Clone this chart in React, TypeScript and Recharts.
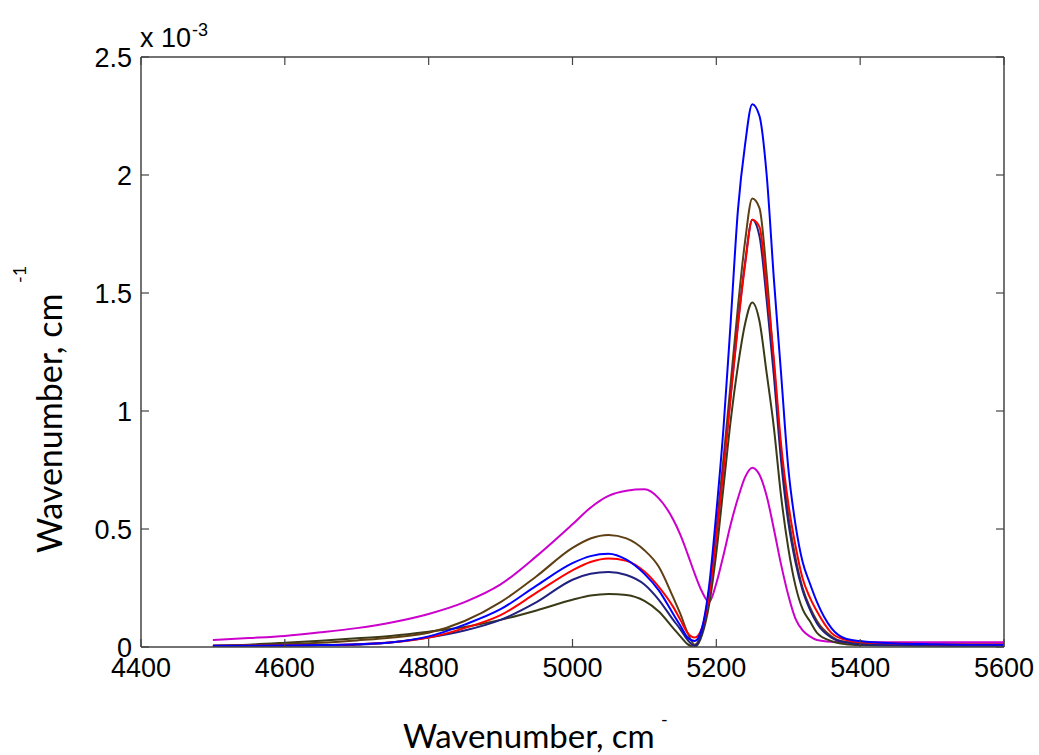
import React from 'react';
import { LineChart, Line, XAxis, YAxis, Label } from 'recharts';

// wavenumber grid (cm^-1)
const wavenumbers = [
  4500, 4550, 4600, 4650, 4700, 4750, 4800, 4850, 4900, 4950, 5000, 5025, 5050, 5075, 5100,
  5120, 5140, 5150, 5160, 5170, 5180, 5190, 5200, 5210, 5220, 5230, 5240, 5250, 5260, 5270,
  5280, 5290, 5300, 5310, 5320, 5330, 5340, 5360, 5380, 5400, 5450, 5500, 5550, 5600,
];

// values in units of 1e-3
const magenta = [
  0.03, 0.038, 0.047, 0.062, 0.08, 0.105, 0.14, 0.19, 0.265, 0.385, 0.52, 0.59, 0.64, 0.662, 0.668,
  0.63, 0.54, 0.475, 0.395, 0.31, 0.235, 0.19, 0.27, 0.39, 0.52, 0.63, 0.72, 0.76, 0.73, 0.64,
  0.5, 0.35, 0.22, 0.12, 0.07, 0.045, 0.03, 0.022, 0.02, 0.02, 0.02, 0.02, 0.02, 0.02,
];
const olive = [
  0.005, 0.01, 0.018, 0.027, 0.037, 0.048, 0.065, 0.085, 0.115, 0.155, 0.2, 0.218, 0.225, 0.22, 0.195,
  0.15, 0.08, 0.045, 0.012, 0.0, 0.05, 0.18, 0.4, 0.68, 0.96, 1.19, 1.37, 1.46, 1.38, 1.16,
  0.93, 0.64, 0.42, 0.26, 0.16, 0.11, 0.06, 0.025, 0.012, 0.008, 0.006, 0.005, 0.005, 0.005,
];
const brown = [
  0.005, 0.008, 0.012, 0.018, 0.028, 0.04, 0.06, 0.11, 0.19, 0.3, 0.42, 0.46, 0.475, 0.46, 0.41,
  0.34, 0.21, 0.14, 0.06, 0.01, 0.07, 0.24, 0.5, 0.8, 1.12, 1.44, 1.72, 1.9, 1.86, 1.58,
  1.2, 0.83, 0.56, 0.38, 0.25, 0.17, 0.11, 0.045, 0.02, 0.015, 0.01, 0.008, 0.008, 0.008,
];
const navy = [
  0.003, 0.004, 0.005, 0.007, 0.01, 0.02, 0.04, 0.07, 0.115, 0.19, 0.285, 0.31, 0.318, 0.305, 0.265,
  0.2, 0.115, 0.075, 0.03, 0.005, 0.06, 0.22, 0.47, 0.76, 1.07, 1.37, 1.63, 1.81, 1.74, 1.47,
  1.15, 0.79, 0.53, 0.36, 0.24, 0.16, 0.1, 0.04, 0.02, 0.012, 0.008, 0.006, 0.005, 0.005,
];
const red = [
  0.005, 0.005, 0.006, 0.008, 0.012, 0.02, 0.04, 0.08, 0.135, 0.23, 0.325, 0.36, 0.375, 0.365, 0.32,
  0.255, 0.17, 0.115, 0.06, 0.04, 0.08, 0.22, 0.47, 0.75, 1.06, 1.36, 1.62, 1.81, 1.78, 1.52,
  1.22, 0.86, 0.61, 0.43, 0.29, 0.21, 0.15, 0.06, 0.03, 0.02, 0.015, 0.012, 0.012, 0.012,
];
const blue = [
  0.005, 0.005, 0.006, 0.008, 0.012, 0.02, 0.045, 0.095, 0.16, 0.26, 0.355, 0.385, 0.395, 0.37, 0.31,
  0.24, 0.14, 0.09, 0.04, 0.025, 0.08, 0.26, 0.57, 0.93, 1.38, 1.85, 2.13, 2.3, 2.25, 2.0,
  1.56, 1.16, 0.76, 0.52, 0.36, 0.27, 0.19, 0.08, 0.035, 0.025, 0.015, 0.012, 0.01, 0.01,
];

const xTicks = [4400, 4600, 4800, 5000, 5200, 5400, 5600];
const yTicks = [0, 0.5, 1, 1.5, 2, 2.5];

const series = [
  { key: 'magenta', color: '#cc00cc', values: magenta },
  { key: 'olive', color: '#3a3a18', values: olive },
  { key: 'brown', color: '#5e3f14', values: brown },
  { key: 'navy', color: '#202080', values: navy },
  { key: 'red', color: '#ff0000', values: red },
  { key: 'blue', color: '#0000ff', values: blue },
];

const data = wavenumbers.map((x, i) => {
  const row: Record<string, number> = { x };
  series.forEach(s => { row[s.key] = s.values[i]; });
  return row;
});

const AXIS = '#444';
const TICK_FONT = '"Liberation Sans", Arial, sans-serif';
const TITLE_FONT = 'Lato, "Open Sans", sans-serif';

const BottomTick = (props: any) => {
  const { x, y, payload } = props;
  return (
    <g>
      <line x1={x} y1={y} x2={x} y2={y - 8} stroke={AXIS} strokeWidth={1.2} />
      <text x={x} y={y + 30} textAnchor="middle" fontSize={27} fontFamily={TICK_FONT} fill="#000">
        {payload.value}
      </text>
    </g>
  );
};

const TopTick = (props: any) => {
  const { x, y } = props;
  return <line x1={x} y1={y} x2={x} y2={y + 8} stroke={AXIS} strokeWidth={1.2} />;
};

const LeftTick = (props: any) => {
  const { x, y, payload } = props;
  return (
    <g>
      <line x1={x} y1={y} x2={x + 8} y2={y} stroke={AXIS} strokeWidth={1.2} />
      <text x={x - 9} y={y} dy="0.36em" textAnchor="end" fontSize={27} fontFamily={TICK_FONT} fill="#000">
        {payload.value}
      </text>
    </g>
  );
};

const RightTick = (props: any) => {
  const { x, y } = props;
  return <line x1={x} y1={y} x2={x - 8} y2={y} stroke={AXIS} strokeWidth={1.2} />;
};

const XTitle = () => (
  <g>
    <text x={403} y={748} fontSize={33} fontFamily={TITLE_FONT} fill="#000">Wavenumber, cm</text>
    <text x={661} y={726} fontSize={18} fontFamily={TITLE_FONT} fill="#000">-</text>
  </g>
);

const YTitle = () => (
  <g>
    <text x={62} y={553} transform="rotate(-90 62 553)" fontSize={34} fontFamily={TITLE_FONT} fill="#000">
      Wavenumber, cm
    </text>
    <text x={26} y={283} transform="rotate(-90 26 283)" fontSize={18} fontFamily={TITLE_FONT} fill="#000">
      -1
    </text>
    <text x={140} y={47} fontSize={27} fontFamily={TICK_FONT} fill="#000">x 10</text>
    <text x={192} y={36} fontSize={18} fontFamily={TICK_FONT} fill="#000">-3</text>
  </g>
);

export default function App() {
  return (
    <div style={{ position: 'absolute', left: 0, top: 0, width: 1039, height: 755, background: '#fff' }}>
      <LineChart width={1039} height={755} data={data} margin={{ top: 56, right: 34, bottom: 0, left: 0 }}>
        <XAxis
          xAxisId="bottom"
          dataKey="x"
          type="number"
          domain={[4400, 5600]}
          ticks={xTicks}
          interval={0}
          height={108}
          tickSize={0}
          tickMargin={0}
          tick={<BottomTick />}
          axisLine={{ stroke: AXIS, strokeWidth: 1.5 }}
          allowDataOverflow
        >
          <Label content={<XTitle />} />
        </XAxis>
        <XAxis
          xAxisId="top"
          orientation="top"
          dataKey="x"
          type="number"
          domain={[4400, 5600]}
          ticks={xTicks}
          interval={0}
          height={1}
          tickSize={0}
          tickMargin={0}
          tick={<TopTick />}
          axisLine={{ stroke: AXIS, strokeWidth: 1.5 }}
          allowDataOverflow
        />
        <YAxis
          yAxisId="left"
          type="number"
          domain={[0, 2.5]}
          ticks={yTicks}
          interval={0}
          width={141}
          tickSize={0}
          tickMargin={0}
          tick={<LeftTick />}
          axisLine={{ stroke: AXIS, strokeWidth: 1.5 }}
          allowDataOverflow
        >
          <Label content={<YTitle />} />
        </YAxis>
        <YAxis
          yAxisId="right"
          orientation="right"
          type="number"
          domain={[0, 2.5]}
          ticks={yTicks}
          interval={0}
          width={1}
          tickSize={0}
          tickMargin={0}
          tick={<RightTick />}
          axisLine={{ stroke: AXIS, strokeWidth: 1.5 }}
          allowDataOverflow
        />
        {series.map(s => (
          <Line
            key={s.key}
            xAxisId="bottom"
            yAxisId="left"
            type="monotone"
            dataKey={s.key}
            stroke={s.color}
            strokeWidth={2}
            dot={false}
            activeDot={false}
            isAnimationActive={false}
          />
        ))}
      </LineChart>
    </div>
  );
}
